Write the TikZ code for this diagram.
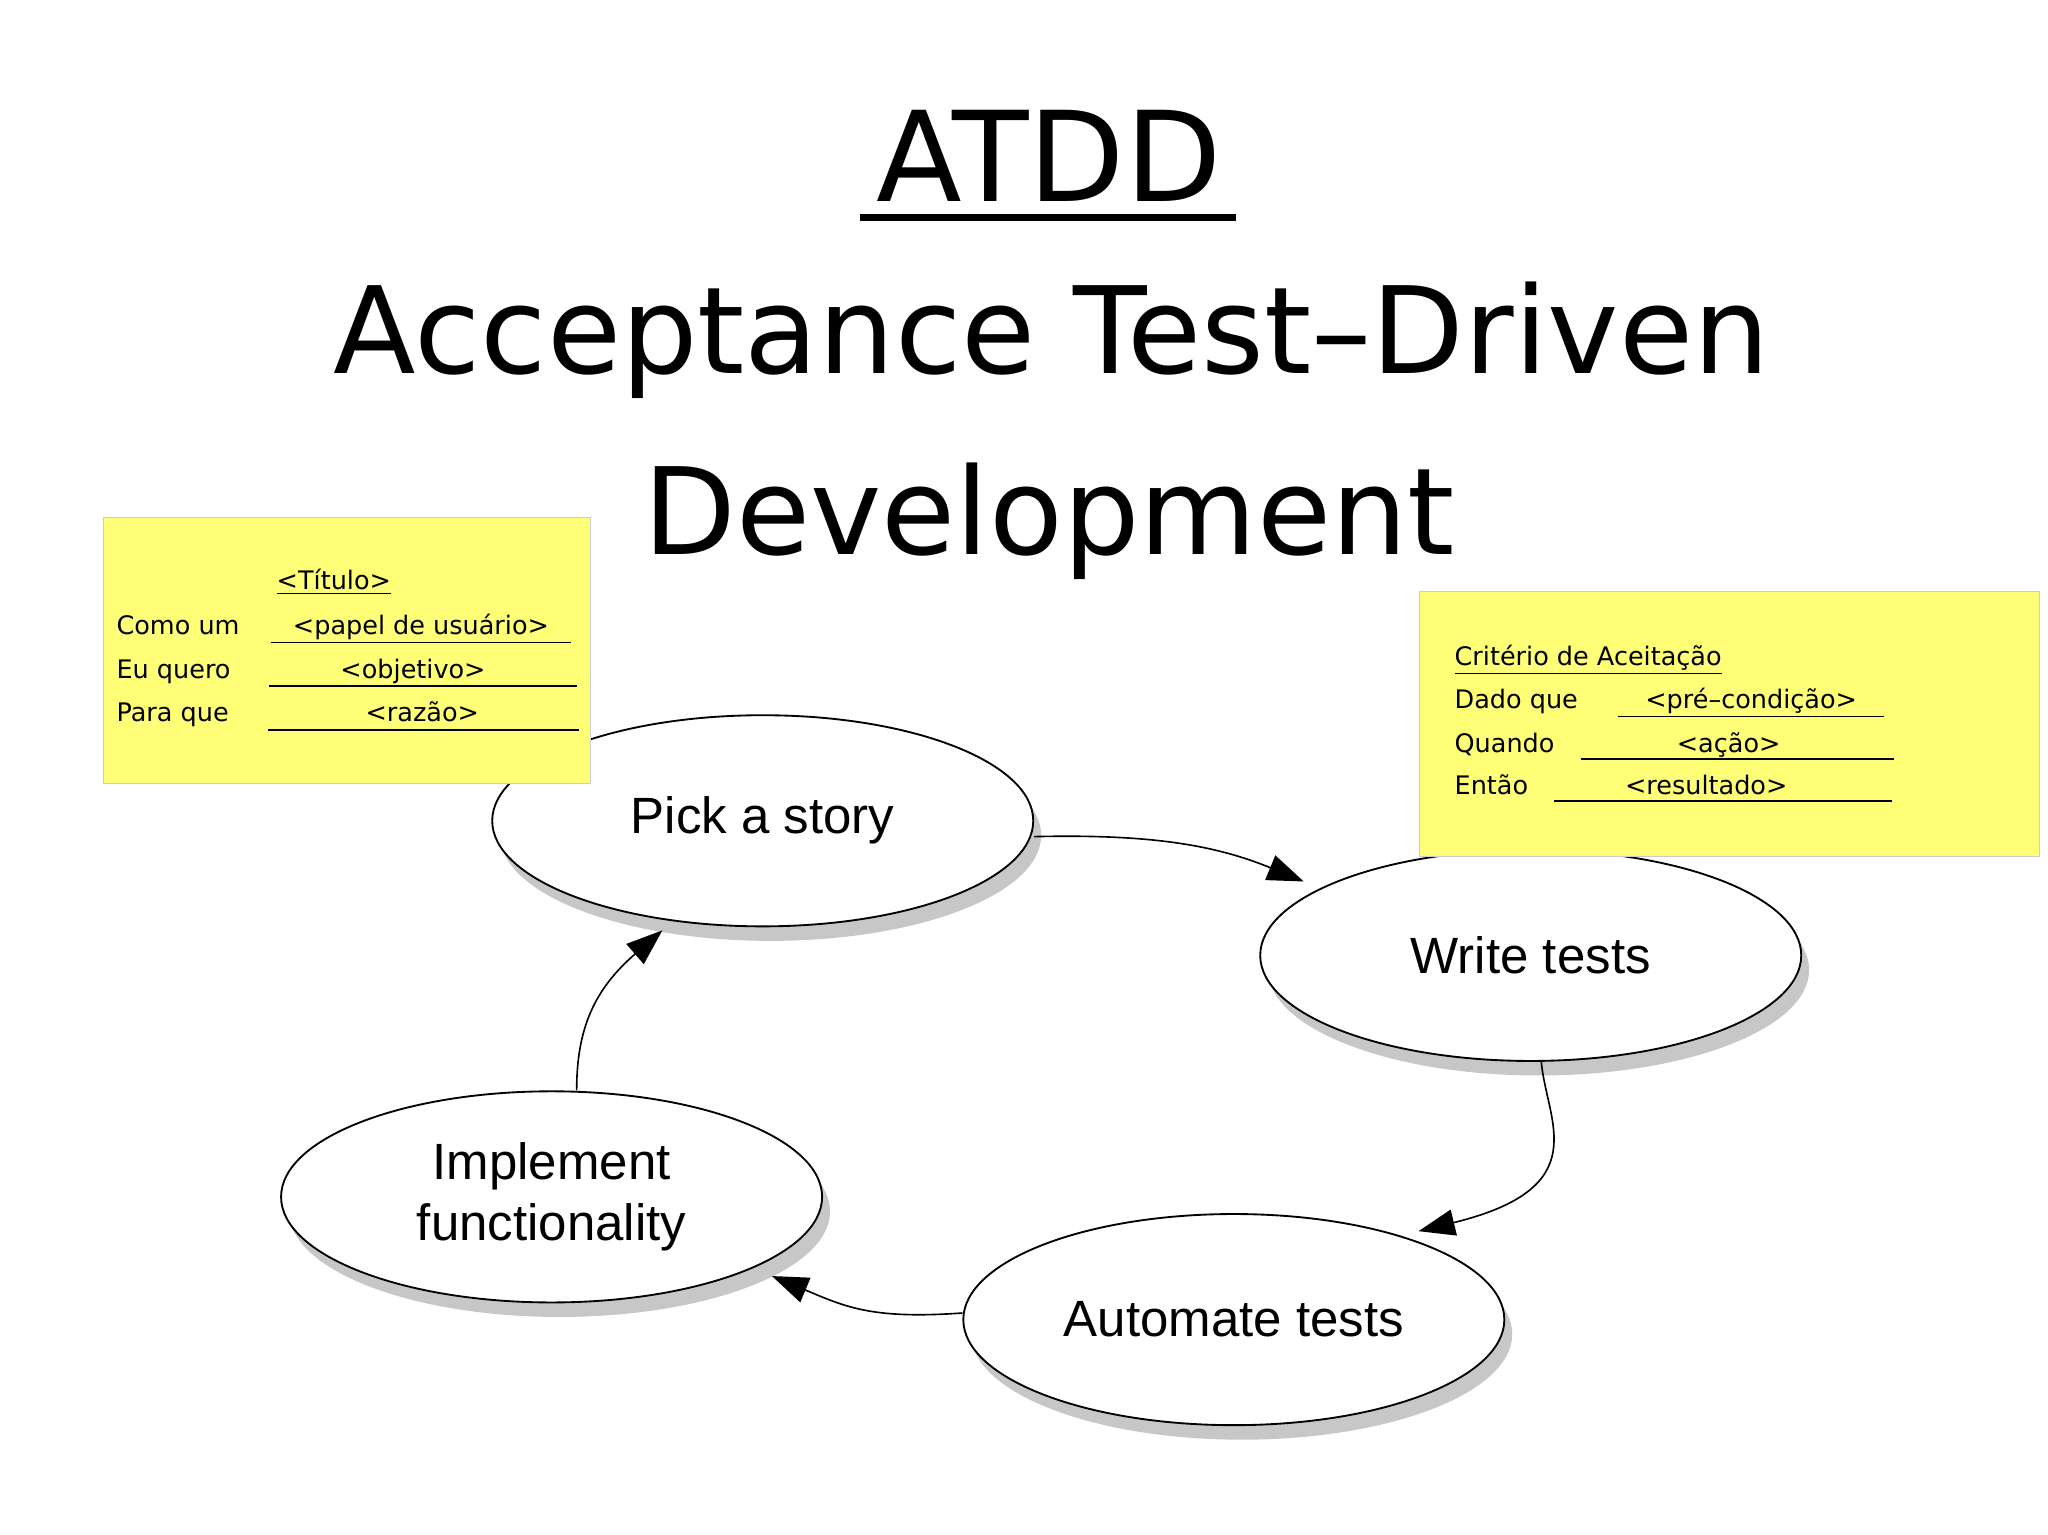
\documentclass[tikz,border=0pt]{standalone}
\usepackage{fontspec}
\setmainfont{DejaVu Sans}
\newfontfamily\elfont{Liberation Sans}
\usetikzlibrary{shadows,arrows.meta,shapes.geometric}
\definecolor{sticky}{HTML}{FFFF77}
\begin{document}
\begin{tikzpicture}[x=0.02cm,y=-0.02cm,
  ell/.style={draw=black,line width=0.8pt,fill=white,ellipse,minimum width=410*0.02cm,minimum height=160*0.02cm,inner sep=0pt,
    drop shadow={shadow xshift=0.12cm,shadow yshift=-0.22cm,fill=black!40,opacity=0.55},font=\elfont\fontsize{22}{26}\selectfont,align=center},
  arr/.style={-{Triangle[length=0.55cm,width=0.4cm]},line width=0.7pt},
  note/.style={draw=black!20,fill=sticky},
  nt/.style={font=\fontsize{11}{13}\selectfont,anchor=base west,inner sep=0pt},
  ul/.style={line width=0.7pt}]
\useasboundingbox (0,0) rectangle (1552,1163);
\fill[white] (0,0) rectangle (1552,1163);
% titles
\node[font=\fontsize{54}{62}\selectfont] (t1) at (795,118) {ATDD};
\draw[line width=3pt] (652,165) -- (937,165);
\node[font=\fontsize{52}{60}\selectfont] (t2) at (797,258) {Acceptance Test–Driven};
\node[font=\fontsize{52}{60}\selectfont] (t3) at (795,395) {Development};
% ellipses
\node[ell] (pick) at (578,622) {Pick a story};
\node[ell] (write) at (1160,724) {Write tests};
\node[ell] (auto) at (935,1000) {Automate tests};
\node[ell] (impl) at (418,907) {Implement\\functionality};
% arrows
\draw[arr] (pick.east) ++(0,12) coordinate (a1) .. controls (870,632) and (920,640) .. (988,668);
\draw[arr] (write.south) ++(8,0) coordinate (a2) .. controls (1172,850) and (1210,900) .. (1075,933);
\draw[arr] (auto.west) ++(0,-5) coordinate (a3) .. controls (660,1000) and (640,990) .. (585,967);
\draw[arr] (impl.north) ++(19,0) coordinate (a4) .. controls (437,780) and (450,750) .. (502,705);
% sticky 1
\node[note,minimum width=369*0.02cm,minimum height=201*0.02cm,anchor=north west,inner sep=0pt] (s1) at (78,392) {};
\node[font=\fontsize{11}{13}\selectfont,anchor=base] (s1t) at (253,447) {\underline{<Título>}};
\node[nt] at (88,481) {Como um};
\node[nt] at (88,514) {Eu quero};
\node[nt] at (88,547) {Para que};
\draw[ul] (205,487) -- (433,487); \node[font=\fontsize{11}{13}\selectfont,anchor=base] at (319,481) {<papel de usuário>};
\draw[ul] (204,520) -- (437,520); \node[font=\fontsize{11}{13}\selectfont,anchor=base] at (313,514) {<objetivo>};
\draw[ul] (203,553) -- (439,553); \node[font=\fontsize{11}{13}\selectfont,anchor=base] at (320,547) {<razão>};
% sticky 2
\node[note,minimum width=470*0.02cm,minimum height=201*0.02cm,anchor=north west,inner sep=0pt] (s2) at (1075,448) {};
\node[nt] at (1102,504) {\underline{Critério de Aceitação}};
\node[nt] at (1102,537) {Dado que};
\node[nt] at (1102,570) {Quando};
\node[nt] at (1102,602) {Então};
\draw[ul] (1226,543) -- (1428,543); \node[font=\fontsize{11}{13}\selectfont,anchor=base] at (1327,537) {<pré–condição>};
\draw[ul] (1198,575) -- (1435,575); \node[font=\fontsize{11}{13}\selectfont,anchor=base] at (1310,570) {<ação>};
\draw[ul] (1178,607) -- (1434,607); \node[font=\fontsize{11}{13}\selectfont,anchor=base] at (1293,602) {<resultado>};
\end{tikzpicture}
\end{document}
